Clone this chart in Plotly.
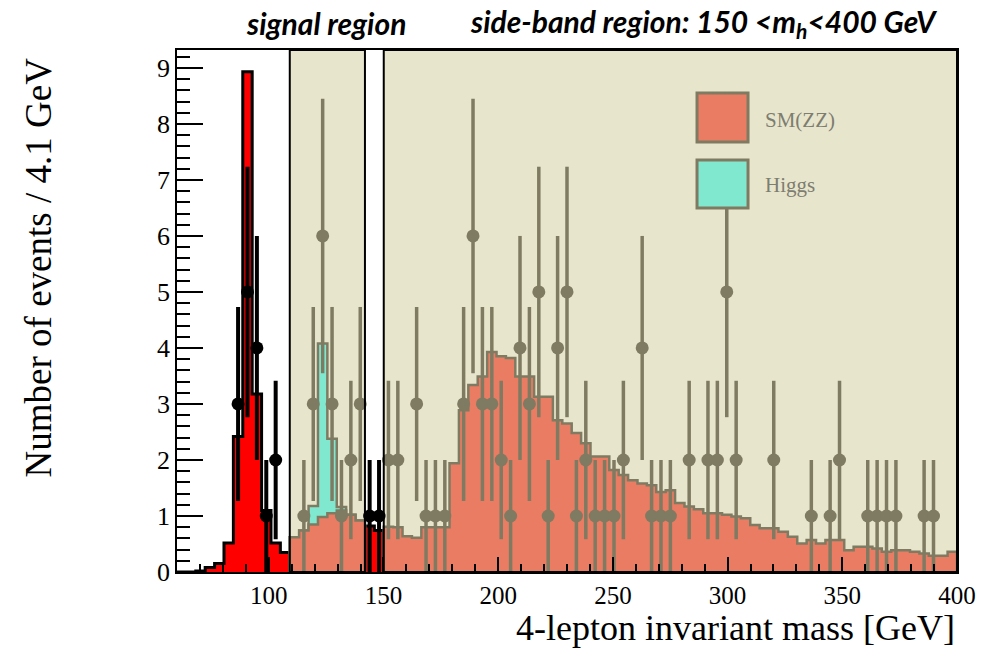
import numpy as np
import plotly.graph_objects as go

# ---------------- data ----------------
x_min, x_max, n_bins = 60.0, 400.0, 83
edges = np.linspace(x_min, x_max, n_bins + 1)
centers = 0.5 * (edges[:-1] + edges[1:])

sm_zz = [0, 0, 0.02, 0.08, 0.15, 0.52, 2.42, 8.93, 3.18, 1.1, 0.52, 0.35,
         0.62, 0.74, 0.85, 0.98, 1.05, 1.1, 1.02, 0.92,
         0.82, 0.74,
         0.81, 0.80, 0.64, 0.61, 0.80, 0.80, 0.80, 1.94, 2.89, 3.34, 3.49, 3.93,
         3.85, 3.82, 3.49, 3.49, 3.13, 3.13, 2.71, 2.65, 2.48, 2.30, 2.06, 2.06,
         1.82, 1.73, 1.64, 1.58, 1.55, 1.43, 1.46, 1.23, 1.17, 1.12, 1.05, 1.05,
         1.02, 0.99, 0.96, 0.84, 0.78, 0.78, 0.72, 0.63, 0.51, 0.57, 0.51, 0.57,
         0.57, 0.39, 0.45, 0.45, 0.42, 0.36, 0.39, 0.39, 0.36, 0.33, 0.29, 0.29,
         0.36]

higgs = [0] * 13 + [0.0, 0.33, 3.1, 1.33, 0.06] + [0] * 65

data_counts = [0, 0, 0, 0, 0, 0, 3, 5, 4, 1, 2, 0,
               0, 1, 3, 6, 3, 1, 2, 3,
               1, 1,
               2, 2, 0, 3, 1, 1, 1, 0, 3, 6, 3, 3, 2, 1, 4, 3, 5, 1, 4, 5, 1, 2,
               1, 1, 1, 2, 0, 4, 1, 1, 1, 0, 2, 0, 2, 2, 5, 2, 0, 0, 0, 2, 0, 0,
               0, 1, 0, 1, 2, 0, 0, 1, 1, 1, 1, 0, 0, 1, 1, 0, 0]

signal_bins = (12, 20)     # bin index range [start, stop)
sideband_bins = (22, 83)

x_ticks = [100, 150, 200, 250, 300, 350, 400]
y_ticks = [0, 1, 2, 3, 4, 5, 6, 7, 8, 9]

sm_zz = np.array(sm_zz, dtype=float)
higgs = np.array(higgs, dtype=float)
data_counts = np.array(data_counts, dtype=float)

# ---------------- styles ----------------
RED = "#ff0000"
SALMON = "#e97c62"
CYAN = "#7fe8cf"
BEIGE = "#e8e5cd"
OLIVE = "#7f7b62"


def step(vals, a, b):
    xs, ys = [edges[a]], [0.0]
    for i in range(a, b):
        xs += [edges[i], edges[i + 1]]
        ys += [vals[i], vals[i]]
    xs.append(edges[b])
    ys.append(0.0)
    return xs, ys


fig = go.Figure()

inside = np.zeros(n_bins, dtype=bool)
inside[signal_bins[0]:signal_bins[1]] = True
inside[sideband_bins[0]:sideband_bins[1]] = True

# outside-box segments: red with black outline
for a, b in [(0, signal_bins[0]), (signal_bins[1], sideband_bins[0])]:
    xs, ys = step(sm_zz, a, b)
    fig.add_trace(go.Scatter(x=xs, y=ys, mode="lines", fill="tozeroy",
                             fillcolor=RED, line=dict(color="black", width=3),
                             hoverinfo="skip", showlegend=False))

# signal region: SM + Higgs stack
total = sm_zz + higgs
xs, ys = step(total, *signal_bins)
fig.add_trace(go.Scatter(x=xs, y=ys, mode="lines", fill="tozeroy",
                         fillcolor=CYAN, line=dict(color=OLIVE, width=2.5),
                         hoverinfo="skip", showlegend=False))
for a, b in [signal_bins, sideband_bins]:
    xs, ys = step(sm_zz, a, b)
    fig.add_trace(go.Scatter(x=xs, y=ys, mode="lines", fill="tozeroy",
                             fillcolor=SALMON, line=dict(color=OLIVE, width=2.5),
                             hoverinfo="skip", showlegend=False))

# data points
has = data_counts > 0
for mask, col, msize, bw in [(has & ~inside, "black", 13, 4), (has & inside, OLIVE, 13, 3.5)]:
    fig.add_trace(go.Scatter(
        x=centers[mask], y=data_counts[mask], mode="markers",
        marker=dict(color=col, size=msize, symbol="circle"),
        error_y=dict(type="data", array=np.sqrt(data_counts[mask]),
                     color=col, thickness=bw, width=0),
        hoverinfo="skip", showlegend=False))

# region boxes
shapes = []
for a, b in [signal_bins, sideband_bins]:
    shapes.append(dict(type="rect", xref="x", yref="paper", x0=edges[a], x1=edges[b],
                       y0=0, y1=1, fillcolor=BEIGE, line=dict(width=0), layer="below"))
    shapes.append(dict(type="rect", xref="x", yref="paper", x0=edges[a], x1=edges[b],
                       y0=0, y1=1, fillcolor="rgba(0,0,0,0)",
                       line=dict(color="black", width=2), layer="above"))

# legend swatches
for (y0, y1, col) in [(0.8238, 0.9176, SALMON), (0.6973, 0.7893, CYAN)]:
    shapes.append(dict(type="rect", xref="paper", yref="paper", x0=0.6667, x1=0.7321,
                       y0=y0, y1=y1, fillcolor=col, line=dict(color=OLIVE, width=3),
                       layer="above"))

serif = "Liberation Serif"
title_font = dict(family="Lato", size=30, color="black", weight="bold", style="italic")
annotations = [
    dict(text="SM(ZZ)", xref="paper", yref="paper", x=0.7513, y=0.866,
         xanchor="left", yanchor="middle", showarrow=False,
         font=dict(family=serif, size=21, color="#7d7d70")),
    dict(text="Higgs", xref="paper", yref="paper", x=0.7513, y=0.741,
         xanchor="left", yanchor="middle", showarrow=False,
         font=dict(family=serif, size=21, color="#7d7d70")),
    dict(text="4-lepton invariant mass [GeV]", xref="paper", yref="paper",
         x=1.0, y=-0.149, xanchor="right", yanchor="bottom", showarrow=False,
         font=dict(family=serif, size=36, color="black")),
    dict(text="Number of events / 4.1 GeV", xref="paper", yref="paper",
         x=-0.178, y=0.99, xanchor="center", yanchor="top", textangle=-90,
         showarrow=False, font=dict(family=serif, size=37, color="black")),
    dict(text="signal region", xref="paper", yref="paper", x=0.191, y=1.052,
         xanchor="center", yanchor="middle", showarrow=False, font=title_font),
    dict(text="side-band region: 150 <m<sub>h</sub><400 GeV", xref="paper", yref="paper",
         x=0.675, y=1.052, xanchor="center", yanchor="middle", showarrow=False,
         font=title_font),
]

fig.update_layout(
    width=988, height=650,
    margin=dict(l=177, r=31, t=50, b=78),
    paper_bgcolor="white", plot_bgcolor="white",
    shapes=shapes, annotations=annotations,
    xaxis=dict(range=[x_min, x_max], tickvals=x_ticks, ticks="inside", ticklen=15,
               tickcolor="black", tickwidth=1.5,
               minor=dict(dtick=10, ticklen=8, ticks="inside", tickcolor="black"),
               showline=True, mirror=True, linecolor="black", linewidth=1.5,
               showgrid=False, zeroline=False,
               tickfont=dict(family=serif, size=25, color="black")),
    yaxis=dict(range=[0, 9.32], tickvals=y_ticks, ticks="inside", ticklen=26,
               tickcolor="black", tickwidth=1.5,
               minor=dict(dtick=0.2, ticklen=13, ticks="inside", tickcolor="black"),
               showline=True, mirror=True, linecolor="black", linewidth=1.5,
               showgrid=False, zeroline=False,
               tickfont=dict(family=serif, size=26, color="black")),
)

fig.write_html("out.html")
